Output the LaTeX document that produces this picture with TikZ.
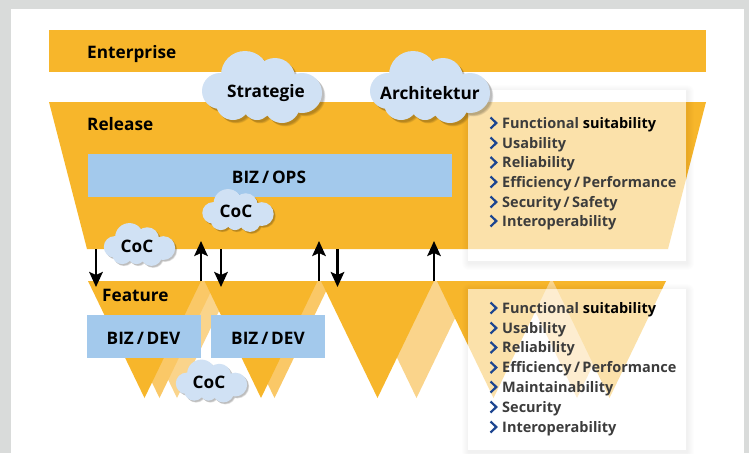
\documentclass[tikz,border=0pt]{standalone}
\usepackage{fontspec}
\setmainfont{Open Sans}
\definecolor{panelgrey}{HTML}{D9DBDA}
\definecolor{orng}{HTML}{F7B62B}
\definecolor{orngmid}{HTML}{FAC867}
\definecolor{ornglt}{HTML}{FAD48B}
\definecolor{bizblue}{HTML}{A3C9EC}
\definecolor{cloudblue}{HTML}{D0E1F4}
\definecolor{listtext}{HTML}{3C3C3C}
\definecolor{chev}{HTML}{1C4590}
\usetikzlibrary{arrows.meta}
\tikzset{
  lab/.style={font=\bfseries\fontsize{17.2}{20}\selectfont,inner sep=0pt,text=black,yshift=-0.8pt},
  listitem/.style={font=\bfseries\fontsize{14.5}{18}\selectfont,inner sep=0pt,anchor=west,text=listtext,yshift=-1.6pt},
  bizbox/.style={fill=bizblue,draw=none,inner sep=0pt},
  updown/.style={line width=2.5pt,-{Stealth[length=15pt,width=13.5pt,inset=3pt]}},
  chevron/.style={draw=chev,line width=2.2pt,miter limit=10},
}
\newcommand\tri[3]{\fill[#1] (#2-56.5,281) -- (#2+56.5,281) -- (#2,398) -- cycle;}
\newcommand\relshape{\fill[orng] (49,102) -- (706,102) -- (668,249) -- (87,249) -- cycle;}
\newcommand\featshapes{%
  \tri{ornglt}{177}{}\tri{orngmid}{159.5}{}\tri{orng}{144.5}{}%
  \tri{orngmid}{274.5}{}\tri{orng}{261}{}%
  \tri{ornglt}{416.5}{}\tri{ornglt}{577}{}%
  \tri{orng}{377.5}{}\tri{orng}{493.5}{}\tri{orng}{609.5}{}}
\newcommand\softshadow[4]{%
  \foreach \g in {1,...,7}{\fill[black,opacity=0.008,rounded corners=\g pt] (#1-\g+1,#2-\g+2) rectangle (#3+\g+1,#4+\g+2);}}
\newcommand\cloudbits{%
  (-17,-12) circle (24) (13,-9) circle (20) (40,6) circle (20) (-42,4) circle (18)
  (-29,16) circle (17) (-5,19) circle (14) (20,18) circle (18)
  (4,4) circle [x radius=36,y radius=16]}
\newcommand\cloudat[3]{%
  \begin{scope}[shift={(#1,#2)},scale=#3]
    \foreach \d in {1,2,3,4}{\fill[black,opacity=0.07] [shift={(1.5+0.5*\d,1.5+0.5*\d)}] \cloudbits;}
    \fill[cloudblue] \cloudbits;
  \end{scope}}
\newcommand\chevat[1]{\draw[chevron] (490.5,#1-5.5) -- (496.3,#1) -- (490.5,#1+5.5);}
\begin{document}
\begin{tikzpicture}[x=1pt,y=-1pt]
\useasboundingbox (0,0) rectangle (749,453);
\fill[panelgrey] (0,0) rectangle (749,453);
\fill[white] (11,9) rectangle (744,453);
% bands
\fill[orng] (49,30) rectangle (706,72);
\relshape
\featshapes
% blue boxes
\node[bizbox,minimum width=364pt,minimum height=43.5pt,anchor=north west] (ops) at (87.5,153.7) {};
\node[bizbox,minimum width=114pt,minimum height=43pt,anchor=north west] (dev1) at (87,315) {};
\node[bizbox,minimum width=114pt,minimum height=43pt,anchor=north west] (dev2) at (211,315) {};
\node[lab] (opslab) at (269,176.5) {BIZ\,/\,OPS};
\node[lab] (dev1lab) at (143.5,337.5) {BIZ\,/\,DEV};
\node[lab] (dev2lab) at (268,337.5) {BIZ\,/\,DEV};
% arrows
\coordinate (a1) at (96,249);  \coordinate (b1) at (96,287);
\coordinate (a2) at (201,281); \coordinate (b2) at (201,241);
\coordinate (a3) at (221,249); \coordinate (b3) at (221,287);
\coordinate (a4) at (319,281); \coordinate (b4) at (319,241);
\coordinate (a5) at (337.5,249); \coordinate (b5) at (337.5,287);
\coordinate (a6) at (434,281); \coordinate (b6) at (434,241);
\foreach \i in {1,...,6}{\draw[updown] (a\i) -- (b\i);}
% cards
\softshadow{468}{90}{686}{261}
\begin{scope}
  \clip (468,90) rectangle (686,261);
  \fill[white] (468,90) rectangle (686,261);
  \relshape
  \fill[white,opacity=0.6] (468,90) rectangle (686,261);
\end{scope}
\softshadow{468}{289}{686}{450}
\begin{scope}
  \clip (468,289) rectangle (686,450);
  \fill[white] (468,289) rectangle (686,450);
  \featshapes
  \fill[white,opacity=0.6] (468,289) rectangle (686,450);
\end{scope}
% labels
\node[lab,anchor=west] (ent) at (87,53) {Enterprise};
\node[lab,anchor=west] (rel) at (87,123.5) {Release};
\node[lab,anchor=west] (fea) at (102,295) {Feature};
% clouds
\cloudat{262}{87}{1}
\cloudat{430}{87}{1}
\cloudat{238}{210.5}{0.595}
\cloudat{139.5}{244.5}{0.595}
\cloudat{211.5}{381}{0.595}
\node[lab] (str) at (266,92) {Strategie};
\node[lab] (arc) at (430,92) {Architektur};
\node[lab] (coc1) at (236,211) {CoC};
\node[lab] (coc2) at (137,246) {CoC};
\node[lab] (coc3) at (209,382) {CoC};
% list 1
\foreach \y in {123,143,162.5,182,202,221}{\chevat{\y}}
\node[listitem] (l1) at (502,123) {Functional \textcolor{black}{suitability}};
\node[listitem] (l2) at (502,143) {Usability};
\node[listitem] (l3) at (502,162.5) {Reliability};
\node[listitem] (l4) at (502,182) {Efficiency\,/\,Performance};
\node[listitem] (l5) at (502,202) {Security\,/\,Safety};
\node[listitem] (l6) at (502,221) {Interoperability};
% list 2
\foreach \y in {308,328,347.5,367.5,387,407,427}{\chevat{\y}}
\node[listitem] (m1) at (502,308) {Functional \textcolor{black}{suitability}};
\node[listitem] (m2) at (502,328) {Usability};
\node[listitem] (m3) at (502,347.5) {Reliability};
\node[listitem] (m4) at (502,367.5) {Efficiency\,/\,Performance};
\node[listitem] (m5) at (502,387) {Maintainability};
\node[listitem] (m6) at (502,407) {Security};
\node[listitem] (m7) at (502,427) {Interoperability};
\end{tikzpicture}
\end{document}
